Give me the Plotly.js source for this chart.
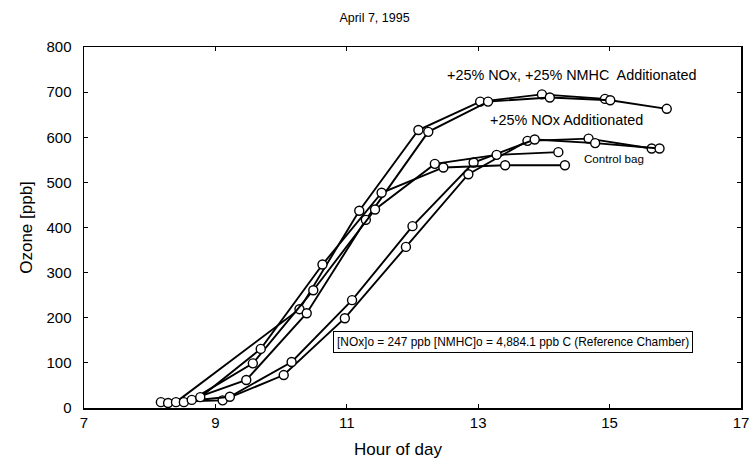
<!DOCTYPE html>
<html>
<head>
<meta charset="utf-8">
<script src="https://cdn.plot.ly/plotly-3.0.1.min.js"></script>
<style>html,body{margin:0;padding:0;background:#fff;}#chart{width:749px;height:464px;}</style>
</head>
<body>
<div id="chart"></div>
<script>
// +25% NOx additionated (two bags)
const noxA_x = [8.17, 9.11, 10.04, 10.97, 11.90, 12.85, 13.75, 14.68, 15.64];
const noxA_y = [13, 17, 73, 199, 357, 518, 592, 597, 575];
const noxB_x = [8.28, 9.22, 10.16, 11.08, 12.00, 12.93, 13.86, 14.78, 15.76];
const noxB_y = [11, 25, 102, 239, 403, 544, 595, 587, 575];
// +25% NOx, +25% NMHC additionated (two bags)
const bothA_x = [8.40, 10.28, 11.19, 12.09, 13.03, 13.97, 14.93];
const bothA_y = [13, 219, 437, 616, 679, 695, 685];
const bothB_x = [8.52, 9.47, 10.39, 11.29, 12.24, 13.15, 14.09, 15.01, 15.87];
const bothB_y = [13, 62, 210, 417, 612, 679, 688, 682, 663];
// Control bags
const ctrlA_x = [8.64, 9.57, 10.49, 11.43, 12.34, 13.28, 14.22];
const ctrlA_y = [18, 99, 261, 440, 541, 561, 567];
const ctrlB_x = [8.77, 9.69, 10.63, 11.53, 12.47, 13.41, 14.32];
const ctrlB_y = [24, 131, 318, 477, 533, 538, 538];

const xTicks = [7, 9, 11, 13, 15, 17];
const yTicks = [0, 100, 200, 300, 400, 500, 600, 700, 800];

const FONT = 'Liberation Sans, Arial, Helvetica, sans-serif';

function series(x, y) {
  return {
    x: x, y: y, type: 'scatter', mode: 'lines+markers',
    line: {color: '#000', width: 1.9},
    marker: {symbol: 'circle', size: 9, color: '#fff', line: {color: '#000', width: 1.4}},
    showlegend: false, hoverinfo: 'skip'
  };
}

const data = [
  series(noxA_x, noxA_y), series(noxB_x, noxB_y),
  series(bothA_x, bothA_y), series(bothB_x, bothB_y),
  series(ctrlA_x, ctrlA_y), series(ctrlB_x, ctrlB_y)
];

const layout = {
  width: 749, height: 464,
  margin: {l: 84, r: 8, t: 47, b: 56},
  paper_bgcolor: '#fff', plot_bgcolor: '#fff',
  font: {family: FONT, color: '#000', size: 15},
  title: {text: 'April 7, 1995', font: {size: 12.5, family: FONT}, x: 0.5, xanchor: 'center', y: 0.963, yanchor: 'middle'},
  xaxis: {
    range: [7, 17], tickvals: xTicks, ticktext: xTicks.map(String),
    ticks: 'inside', ticklen: 4, tickwidth: 1, tickcolor: '#000', ticklabeloverflow: 'allow',
    showgrid: false, zeroline: false, showline: true, linecolor: '#000', linewidth: 1.5, mirror: 'ticks',
    tickfont: {size: 15}
  },
  yaxis: {
    range: [0, 800], tickvals: yTicks, ticktext: yTicks.map(String),
    ticks: 'inside', ticklen: 4, tickwidth: 1, tickcolor: '#000', ticklabelstandoff: 8,
    showgrid: false, zeroline: false, showline: true, linecolor: '#000', linewidth: 1.5, mirror: 'ticks',
    tickfont: {size: 15}, title: {text: 'Ozone [ppb]', font: {size: 17}, standoff: 9}
  },
  annotations: [
    {x: 0.478, y: -0.1136, xref: 'paper', yref: 'paper', xanchor: 'center', yanchor: 'middle', showarrow: false,
     text: 'Hour of day', font: {size: 17}},
    {x: 12.49, y: 738, xref: 'x', yref: 'y', xanchor: 'left', yanchor: 'middle', showarrow: false,
     text: '+25% NOx, +25% NMHC  Additionated', font: {size: 14.4}},
    {x: 13.15, y: 638, xref: 'x', yref: 'y', xanchor: 'left', yanchor: 'middle', showarrow: false,
     text: '+25% NOx Additionated', font: {size: 14.4}},
    {x: 14.58, y: 552, xref: 'x', yref: 'y', xanchor: 'left', yanchor: 'middle', showarrow: false,
     text: 'Control bag', font: {size: 11.6}},
    {x: 10.79, y: 146, xref: 'x', yref: 'y', xanchor: 'left', yanchor: 'middle', showarrow: false,
     text: '[NOx]o = 247 ppb [NMHC]o = 4,884.1 ppb C (Reference Chamber)', font: {size: 11.9},
     bordercolor: '#000', borderwidth: 1, borderpad: 3, bgcolor: '#fff'}
  ]
};

Plotly.newPlot('chart', data, layout, {displayModeBar: false, staticPlot: true});
</script>
</body>
</html>
